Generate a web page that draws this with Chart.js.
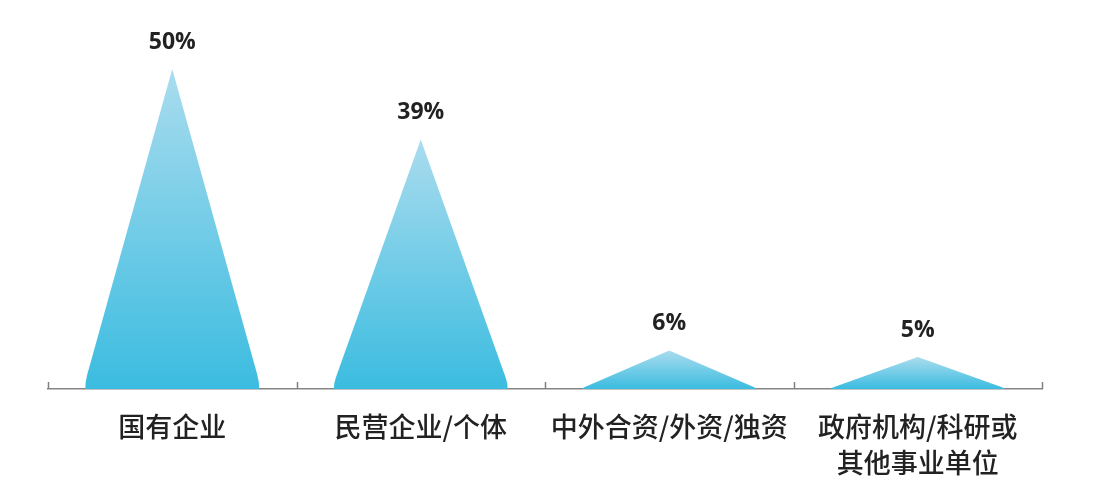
<!DOCTYPE html>
<html>
<head>
<meta charset="utf-8">
<script src="https://cdn.jsdelivr.net/npm/chart.js@4"></script>
<style>
  html, body { margin: 0; padding: 0; background: #ffffff; }
  #wrap { width: 1108px; height: 498px; position: relative; }
</style>
</head>
<body>
<div id="wrap"><canvas id="chart"></canvas></div>
<script>
// employer type share of graduates
const categories = ['国有企业', '民营企业/个体', '中外合资/外资/独资', ['政府机构/科研或', '其他事业单位']]
const shares = [50, 39, 6, 5]
const yMax = 60

// draws each bar as a pointed triangle, from the bar element geometry
const triangleBars = {
    id: 'triangleBars',
    afterDatasetsDraw(chart) {
        const ctx = chart.ctx
        const meta = chart.getDatasetMeta(0)
        meta.data.forEach((bar, i) => {
            const x = bar.x, top = bar.y, base = bar.base, w = bar.width
            const h = base - top
            const grad = ctx.createLinearGradient(0, top, 0, base)
            grad.addColorStop(0, '#aadcee')
            grad.addColorStop(1, '#3bbce0')
            // sides run a little past the corners, then round down onto them
            const d = 2
            const slope = (w / 2 + d) / h
            const ctrlUp = d * h / (w / 2 + d)
            const kneeUp = ctrlUp * 2
            const kneeX = slope * (h - kneeUp)
            ctx.save()
            ctx.beginPath()
            ctx.moveTo(x, top)
            ctx.lineTo(x + kneeX, base - kneeUp)
            ctx.quadraticCurveTo(x + w / 2, base - ctrlUp, x + w / 2, base)
            ctx.lineTo(x - w / 2, base)
            ctx.quadraticCurveTo(x - w / 2, base - ctrlUp, x - kneeX, base - kneeUp)
            ctx.closePath()
            ctx.fillStyle = grad
            ctx.fill()
            // value label above the tip
            ctx.fillStyle = '#222222'
            ctx.font = 'bold 23px "Open Sans", "Noto Sans", sans-serif'
            ctx.textAlign = 'center'
            ctx.textBaseline = 'middle'
            ctx.fillText(shares[i] + '%', x, top - 27)
            ctx.restore()
        })
        // upward tick marks at category boundaries
        const xs = chart.scales.x
        const half = (xs.getPixelForValue(1) - xs.getPixelForValue(0)) / 2
        ctx.save()
        ctx.strokeStyle = '#808080'
        ctx.lineWidth = 1.5
        for (let i = 0; i <= categories.length; i++) {
            const px = Math.round(xs.getPixelForValue(i) - half) + 0.5
            ctx.beginPath()
            ctx.moveTo(px, xs.top)
            ctx.lineTo(px, xs.top - 7)
            ctx.stroke()
        }
        ctx.restore()
    }
}

new Chart('chart', {
    type: 'bar',
    data: {
        labels: categories,
        datasets: [{
            data: shares,
            backgroundColor: 'rgba(0,0,0,0)',
            barPercentage: 0.7,
            categoryPercentage: 1
        }]
    },
    options: {
        responsive: true,
        maintainAspectRatio: false,
        animation: false,
        layout: { padding: { left: 48, right: 66, top: 5, bottom: 0 } },
        plugins: {
            legend: { display: false },
            tooltip: { enabled: false }
        },
        scales: {
            x: {
                offset: true,
                afterFit: (scale) => { scale.height = 109 },
                grid: { display: false, drawTicks: false },
                border: { display: true, color: '#858585', width: 1.5 },
                ticks: {
                    color: '#222222',
                    padding: 20,
                    maxRotation: 0,
                    autoSkip: false,
                    font: { family: '"Noto Sans CJK SC", sans-serif', size: 27, weight: 500, lineHeight: 1.33 }
                }
            },
            y: {
                display: false,
                min: 0,
                max: yMax
            }
        }
    },
    plugins: [triangleBars]
})
</script>
</body>
</html>
